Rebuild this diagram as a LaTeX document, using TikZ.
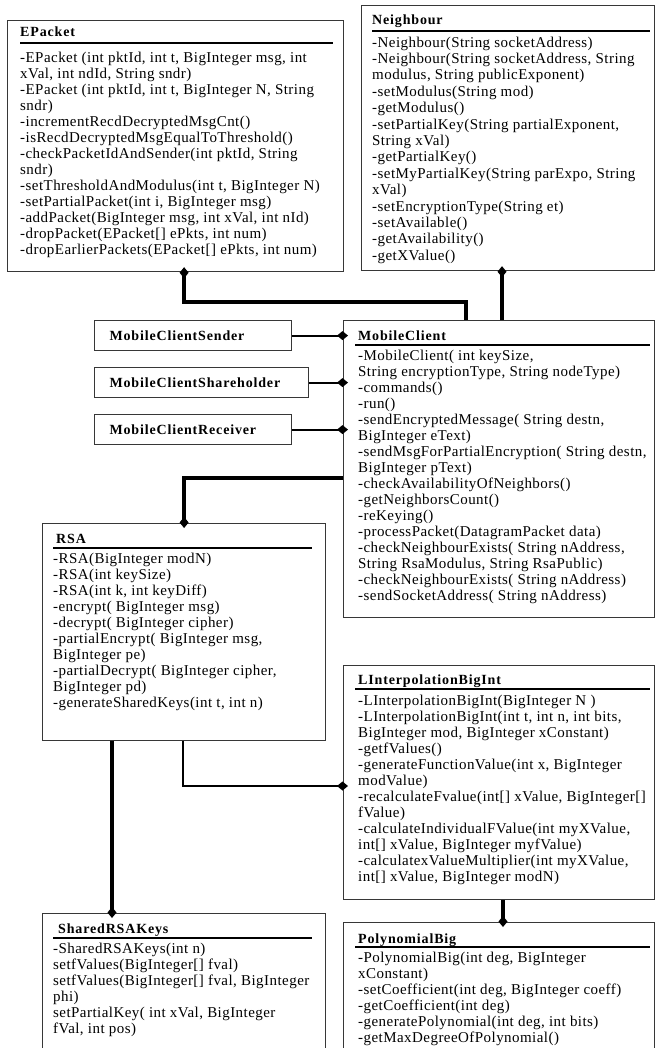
\documentclass[tikz,border=0pt]{standalone}
\usepackage{fontspec}
\setmainfont{Liberation Serif}
\newfontfamily\titlefont[LetterSpace=6]{Liberation Serif}
\newfontfamily\memberfont[LetterSpace=3]{Liberation Serif}
\usetikzlibrary{arrows.meta,positioning,calc}
\definecolor{BoxGray}{RGB}{55,55,55}

\tikzset{
  classbox/.style={draw=BoxGray, line width=1.2pt, anchor=north west, inner sep=0pt},
  stubbox/.style={draw=BoxGray, line width=1.2pt, anchor=north west, inner xsep=15pt,
    inner ysep=0pt, minimum height=30pt, align=left,
    font=\titlefont\fontsize{14}{16}\selectfont\bfseries},
  classname/.style={font=\titlefont\fontsize{14}{16}\selectfont\bfseries, anchor=base west, inner sep=0pt},
  members/.style={font=\memberfont\fontsize{15}{16}\selectfont, align=left, anchor=north west, inner sep=0pt},
  sepline/.style={line width=1.8pt},
  heavy/.style={line width=3.5pt, -{Diamond[length=11pt,width=9pt]}, shorten >=-5pt},
  light/.style={line width=2pt, -{Diamond[length=11pt,width=9pt]}, shorten >=-5pt}
}

\begin{document}
\begin{tikzpicture}[x=1pt,y=-1pt]
  \useasboundingbox (0,0) rectangle (656,1048);
  \clip (0,0) rectangle (656,1048);

  % class boxes
  \node[classbox, minimum width=336, minimum height=251] (epacket) at (7,20) {};
  \node[classbox, minimum width=293, minimum height=265] (neighbour) at (361,5) {};
  \node[classbox, minimum width=311, minimum height=297] (mc) at (343,320) {};
  \node[classbox, minimum width=283, minimum height=217] (rsa) at (42,523) {};
  \node[classbox, minimum width=311, minimum height=234] (interp) at (343,665) {};
  \node[classbox, minimum width=283, minimum height=170] (shared) at (42,913) {};
  \node[classbox, minimum width=311, minimum height=160] (poly) at (343,922) {};

  \node[stubbox, text width=167pt] (sender) at (94,320) {MobileClientSender};
  \node[stubbox, text width=184pt] (holder) at (94,367) {MobileClientShareholder};
  \node[stubbox, text width=167pt] (receiver) at (94,414) {MobileClientReceiver};

  % EPacket
  \node[classname] (epacketT) at ($(epacket.north west)+(13,17)$) {EPacket};
  \draw[sepline] ($(epacket.north west)+(13,23)$) -- ++(313,0);
  \node[members] (epacketM) at ($(epacket.north west)+(13,31.5)$) {%
    -EPacket (int pktId, int t, BigInteger msg, int\\
    xVal, int ndId, String sndr)\\
    -EPacket (int pktId, int t, BigInteger N, String\\
    sndr)\\
    -incrementRecdDecryptedMsgCnt()\\
    -isRecdDecryptedMsgEqualToThreshold()\\
    -checkPacketIdAndSender(int pktId, String\\
    sndr)\\
    -setThresholdAndModulus(int t, BigInteger N)\\
    -setPartialPacket(int i, BigInteger msg)\\
    -addPacket(BigInteger msg, int xVal, int nId)\\
    -dropPacket(EPacket[] ePkts, int num)\\
    -dropEarlierPackets(EPacket[] ePkts, int num)};

  % Neighbour
  \node[classname] (neighbourT) at ($(neighbour.north west)+(11,20)$) {Neighbour};
  \draw[sepline] ($(neighbour.north west)+(11,26)$) -- ++(278,0);
  \node[members, font=\memberfont\fontsize{15}{16.4}\selectfont] (neighbourM) at ($(neighbour.north west)+(11,31.5)$) {%
    -Neighbour(String socketAddress)\\
    -Neighbour(String socketAddress, String\\
    modulus, String publicExponent)\\
    -setModulus(String mod)\\
    -getModulus()\\
    -setPartialKey(String partialExponent,\\
    String xVal)\\
    -getPartialKey()\\
    -setMyPartialKey(String parExpo, String\\
    xVal)\\
    -setEncryptionType(String et)\\
    -setAvailable()\\
    -getAvailability()\\
    -getXValue()};

  % MobileClient
  \node[classname] (mcT) at ($(mc.north west)+(15,20)$) {MobileClient};
  \draw[sepline] ($(mc.north west)+(12,25)$) -- ++(295,0);
  \node[members] (mcM) at ($(mc.north west)+(15,29.5)$) {%
    -MobileClient( int keySize,\\
    String encryptionType, String nodeType)\\
    -commands()\\
    -run()\\
    -sendEncryptedMessage( String destn,\\
    BigInteger eText)\\
    -sendMsgForPartialEncryption( String destn,\\
    BigInteger pText)\\
    -checkAvailabilityOfNeighbors()\\
    -getNeighborsCount()\\
    -reKeying()\\
    -processPacket(DatagramPacket data)\\
    -checkNeighbourExists( String nAddress,\\
    String RsaModulus, String RsaPublic)\\
    -checkNeighbourExists( String nAddress)\\
    -sendSocketAddress( String nAddress)};

  % RSA
  \node[classname] (rsaT) at ($(rsa.north west)+(14,20)$) {RSA};
  \draw[sepline] ($(rsa.north west)+(11,25)$) -- ++(259,0);
  \node[members] (rsaM) at ($(rsa.north west)+(11,29.5)$) {%
    -RSA(BigInteger modN)\\
    -RSA(int keySize)\\
    -RSA(int k, int keyDiff)\\
    -encrypt( BigInteger msg)\\
    -decrypt( BigInteger cipher)\\
    -partialEncrypt( BigInteger msg,\\
    BigInteger pe)\\
    -partialDecrypt( BigInteger cipher,\\
    BigInteger pd)\\
    -generateSharedKeys(int t, int n)};

  % LInterpolationBigInt
  \node[classname] (interpT) at ($(interp.north west)+(15,19)$) {LInterpolationBigInt};
  \draw[sepline] ($(interp.north west)+(12,24)$) -- ++(295,0);
  \node[members] (interpM) at ($(interp.north west)+(15,29.5)$) {%
    -LInterpolationBigInt(BigInteger N )\\
    -LInterpolationBigInt(int t, int n, int bits,\\
    BigInteger mod, BigInteger xConstant)\\
    -getfValues()\\
    -generateFunctionValue(int x, BigInteger\\
    modValue)\\
    -recalculateFvalue(int[] xValue, BigInteger[]\\
    fValue)\\
    -calculateIndividualFValue(int myXValue,\\
    int[] xValue, BigInteger myfValue)\\
    -calculatexValueMultiplier(int myXValue,\\
    int[] xValue, BigInteger modN)};

  % SharedRSAKeys
  \node[classname] (sharedT) at ($(shared.north west)+(16,20)$) {SharedRSAKeys};
  \draw[sepline] ($(shared.north west)+(11,25)$) -- ++(259,0);
  \node[members] (sharedM) at ($(shared.north west)+(11,29.5)$) {%
    -SharedRSAKeys(int n)\\
    setfValues(BigInteger[] fval)\\
    setfValues(BigInteger[] fval, BigInteger\\
    phi)\\
    setPartialKey( int xVal, BigInteger\\
    fVal, int pos)};

  % PolynomialBig
  \node[classname] (polyT) at ($(poly.north west)+(15,21)$) {PolynomialBig};
  \draw[sepline] ($(poly.north west)+(12,25)$) -- ++(295,0);
  \node[members] (polyM) at ($(poly.north west)+(15,29.5)$) {%
    -PolynomialBig(int deg, BigInteger\\
    xConstant)\\
    -setCoefficient(int deg, BigInteger coeff)\\
    -getCoefficient(int deg)\\
    -generatePolynomial(int deg, int bits)\\
    -getMaxDegreeOfPolynomial()};

  % connectors
  \draw[heavy] ($(mc.north west)+(123,0)$) -- ++(0,-18) -| (epacket.south -| rsa.north);
  \draw[heavy] ($(mc.north west)+(159,0)$) coordinate (mcn) -- (mcn |- neighbour.south);
  \draw[light] (sender.east) -- (sender.east -| mc.west);
  \draw[light] (holder.east) -- (holder.east -| mc.west);
  \draw[light] (receiver.east) -- (receiver.east -| mc.west);
  \draw[heavy] ($(mc.north west)+(0,158)$) -| (rsa.north);
  \draw[light] ($(rsa.south west)+(141,0)$) |- ($(interp.north west)+(0,121)$);
  \draw[heavy] ($(rsa.south west)+(70,0)$) -- ($(shared.north west)+(70,0)$);
  \draw[heavy] ($(interp.south west)+(160,0)$) -- ($(poly.north west)+(160,0)$);
\end{tikzpicture}
\end{document}
